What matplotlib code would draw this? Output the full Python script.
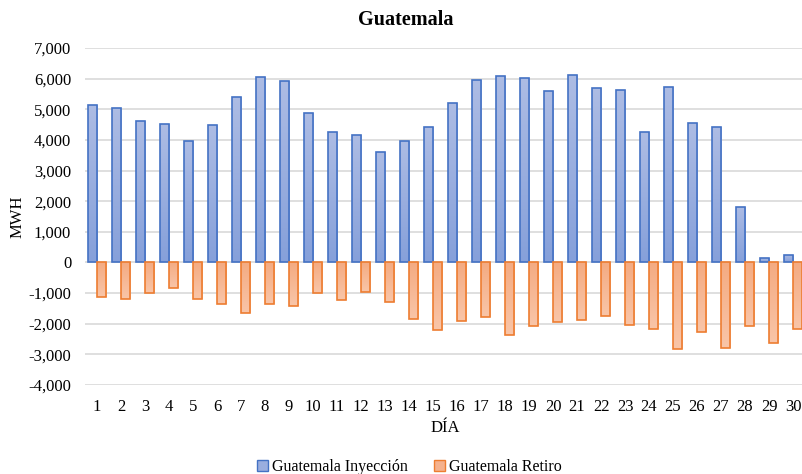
import matplotlib
matplotlib.use("Agg")
import matplotlib.pyplot as plt
import numpy as np
from matplotlib.patches import Patch
from matplotlib.colors import LinearSegmentedColormap

dias = list(range(1, 31))
inyeccion = [5150, 5030, 4620, 4520, 3970, 4500, 5390, 6060, 5920, 4890,
             4270, 4150, 3620, 3970, 4420, 5220, 5970, 6090, 6010, 5600,
             6130, 5700, 5640, 4270, 5740, 4540, 4420, 1820, 130, 250]
retiro = [-1140, -1200, -1000, -850, -1200, -1370, -1660, -1350, -1410, -1000,
          -1220, -970, -1290, -1840, -2200, -1910, -1790, -2370, -2090, -1930,
          -1890, -1740, -2030, -2180, -2840, -2280, -2800, -2090, -2620, -2180]
yticks = list(range(-4000, 7001, 1000))

plt.rcParams['font.family'] = ['Liberation Serif', 'DejaVu Serif']

fig = plt.figure(figsize=(8.03, 4.74), dpi=100)
ax = fig.add_axes([0.1059, 0.1878, 0.8966, 0.7109])

x = np.arange(len(dias))
w = 0.39
blue_fc, blue_ec = '#9AAEDF', '#4472C4'
or_fc, or_ec = '#F5B28E', '#ED7D31'
b1 = ax.bar(x - w/2, inyeccion, width=w, color='none', edgecolor=blue_ec, linewidth=1.2, zorder=3)
b2 = ax.bar(x + w/2, retiro, width=w, color='none', edgecolor=or_ec, linewidth=1.2, zorder=3)

cm_blue = LinearSegmentedColormap.from_list('b', ['#86A0DA', '#ADBCE4'])
cm_or = LinearSegmentedColormap.from_list('o', ['#F9C5A8', '#F4AB82'])
grad = np.linspace(0, 1, 64).reshape(-1, 1)
for bars, cm in ((b1, cm_blue), (b2, cm_or)):
    for r in bars:
        x0, y0 = r.get_x(), r.get_y()
        ww, hh = r.get_width(), r.get_height()
        im = ax.imshow(grad, extent=[x0, x0 + ww, min(y0, y0 + hh), max(y0, y0 + hh)],
                       origin='lower', aspect='auto', cmap=cm, zorder=2.5,
                       interpolation='bilinear')
        im.set_clip_path(r)

fs = 12
ax.set_xlim(-0.5, len(dias) - 0.5)
ax.set_ylim(-4000, 7000)
ax.set_aspect('auto')
ax.set_yticks(yticks)
ax.set_yticklabels([f"{v:,}" for v in yticks], fontsize=fs)
ax.set_xticks(x)
ax.set_xticklabels([str(d) for d in dias], fontsize=fs)
ax.tick_params(axis='both', length=0)
ax.tick_params(axis='y', pad=10)
ax.tick_params(axis='x', pad=10)
ax.grid(axis='y', color='#D9D9D9', linewidth=1.2, zorder=0)
ax.set_axisbelow(True)
for s in ax.spines.values():
    s.set_visible(False)

ax.set_ylabel('MWH', fontsize=fs, va='center')
ax.yaxis.set_label_coords(-0.094, 0.5)
ax.set_xlabel('DÍA', fontsize=fs, va='center')
ax.xaxis.set_label_coords(0.5, (385 - 428) / 337)
fig.text(0.505, 1 - 20 / 474, 'Guatemala', fontsize=14.5, fontweight='bold',
         ha='center', va='center')

handles = [Patch(facecolor=blue_fc, edgecolor=blue_ec, label='Guatemala Inyección'),
           Patch(facecolor=or_fc, edgecolor=or_ec, label='Guatemala Retiro')]
fig.legend(handles=handles, loc='center', bbox_to_anchor=(0.51, 7 / 474), ncol=2,
           frameon=False, fontsize=11.5, handlelength=0.7, handleheight=0.7,
           handletextpad=0.25, columnspacing=1.6, borderpad=0)

fig.savefig('out.png', dpi=100)
